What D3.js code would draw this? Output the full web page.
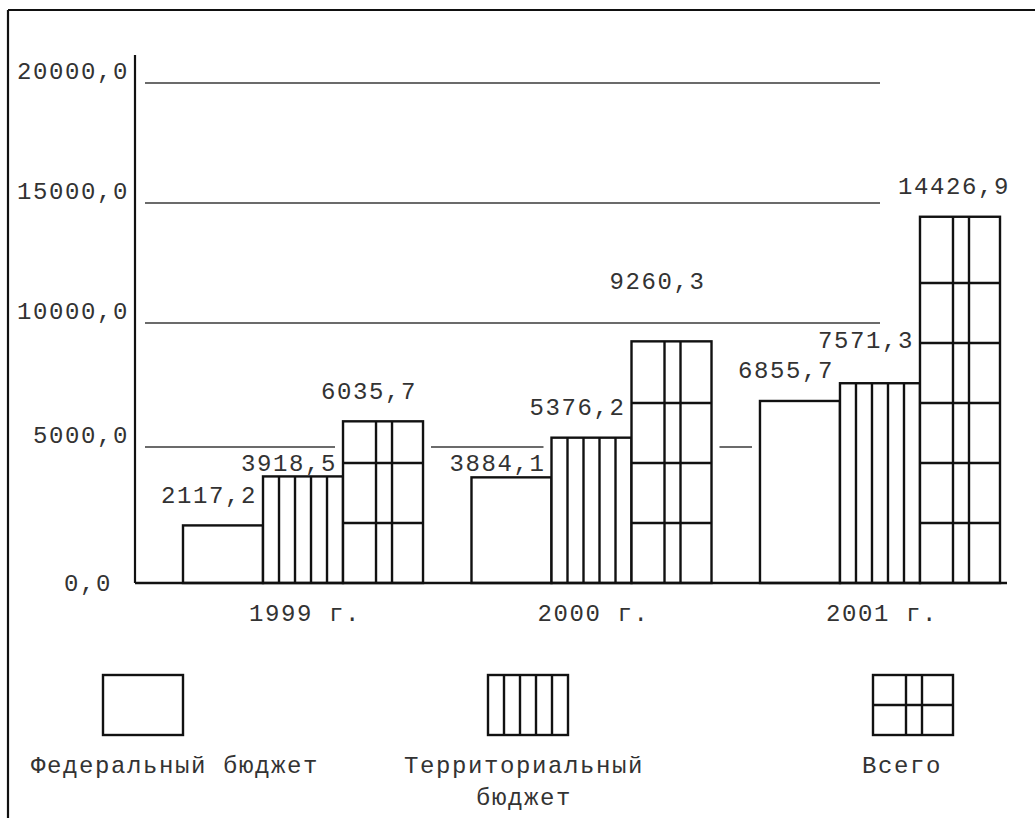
<!DOCTYPE html>
<html>
<head>
<meta charset="utf-8">
<script src="https://cdn.jsdelivr.net/npm/d3@7"></script>
<style>
  html, body { margin: 0; padding: 0; background: #fff; }
  svg { display: block; }
  text { font-family: "Liberation Mono", "DejaVu Sans Mono", monospace; font-size: 24px; letter-spacing: 1.6px; fill: #333; }
</style>
</head>
<body>
<svg id="chart" width="1035" height="818"></svg>
<script>
// ---- data ----
const years = ["1999 г.", "2000 г.", "2001 г."];
const federal = [2117.2, 3884.1, 6855.7];
const territorial = [3918.5, 5376.2, 7571.3];
const total = [6035.7, 9260.3, 14426.9];
const seriesKeys = ["fed", "terr", "total"];
const seriesNames = ["Федеральный бюджет", "Территориальный бюджет", "Всего"];
const yTicks = [0, 5000, 10000, 15000, 20000];
const yTickLabels = ["0,0", "5000,0", "10000,0", "15000,0", "20000,0"];

// ---- layout ----
const W = 1035, H = 818;
const BASE = 583;
const GRID_Y = [583, 447, 323, 203, 83];
const CAP = 15; // approx digit height in px

const svg = d3.select("#chart");

const y = d3.scaleLinear().domain(yTicks).range(GRID_Y);
const x0 = d3.scaleBand().domain(years).range([183, 1000]).paddingInner(0.168).paddingOuter(0);
const x1 = d3.scaleBand().domain(seriesKeys).range([0, x0.bandwidth()]).padding(0);

const rows = [];
years.forEach((yr, i) => {
  [federal[i], territorial[i], total[i]].forEach((v, j) => {
    rows.push({ year: yr, key: seriesKeys[j], value: v,
      x: x0(yr) + x1(seriesKeys[j]), w: x1.bandwidth(), top: y(v) });
  });
});

// ---- frame ----
svg.append("line").attr("x1", 8).attr("x2", W).attr("y1", 10).attr("y2", 10)
  .attr("stroke", "#111").attr("stroke-width", 2.2);
svg.append("line").attr("x1", 8).attr("x2", 8).attr("y1", 10).attr("y2", H)
  .attr("stroke", "#111").attr("stroke-width", 2.2);

// ---- gridlines with knockouts around taller bars ----
const GX0 = 145, GX1 = 880, GAP = 8;
yTicks.slice(1).forEach(t => {
  const gy = y(t);
  let segs = [[GX0, GX1]];
  rows.filter(r => r.top < gy).forEach(r => {
    const a = r.x - GAP, b = r.x + r.w + GAP;
    const next = [];
    segs.forEach(([s, e]) => {
      if (b <= s || a >= e) { next.push([s, e]); return; }
      if (a > s) next.push([s, a]);
      if (b < e) next.push([b, e]);
    });
    segs = next;
  });
  svg.append("g").selectAll("line").data(segs).join("line")
    .attr("x1", d => d[0]).attr("x2", d => d[1])
    .attr("y1", gy).attr("y2", gy)
    .attr("stroke", "#3a3a3a").attr("stroke-width", 1.6);
});

// ---- bars ----
const barG = svg.append("g");
function drawPattern(g, key, bx, bw, top, bottom, hStep) {
  if (key === "terr") {
    for (let k = 1; k < 5; k++) {
      g.append("line").attr("x1", bx + bw * k / 5).attr("x2", bx + bw * k / 5)
        .attr("y1", top).attr("y2", bottom).attr("stroke", "#111").attr("stroke-width", 2.4);
    }
  } else if (key === "total") {
    [0.4125, 0.6125].forEach(f => {
      g.append("line").attr("x1", bx + bw * f).attr("x2", bx + bw * f)
        .attr("y1", top).attr("y2", bottom).attr("stroke", "#111").attr("stroke-width", 2.4);
    });
    if (hStep) {
      for (let hy = bottom - hStep; hy > top + 10; hy -= hStep) {
        g.append("line").attr("x1", bx).attr("x2", bx + bw)
          .attr("y1", hy).attr("y2", hy).attr("stroke", "#111").attr("stroke-width", 2.4);
      }
    } else {
      const m = (top + bottom) / 2;
      g.append("line").attr("x1", bx).attr("x2", bx + bw)
        .attr("y1", m).attr("y2", m).attr("stroke", "#111").attr("stroke-width", 2.4);
    }
  }
}
rows.forEach(r => {
  const g = barG.append("g");
  g.append("rect").attr("x", r.x).attr("y", r.top).attr("width", r.w).attr("height", BASE - r.top)
    .attr("fill", "#fff").attr("stroke", "#111").attr("stroke-width", 2.4);
  drawPattern(g, r.key, r.x, r.w, r.top, BASE, 60);
});

// ---- value labels (left-aligned, placed above each bar, avoiding gridlines and neighbours) ----
const fmt = v => d3.format(".1f")(v).replace(".", ",");
const CHAR_W = 16;
let prev = null;
rows.forEach(r => {
  const text = fmt(r.value);
  const lx0 = r.x - 22, lx1 = lx0 + text.length * CHAR_W;
  let c = r.top - 30;
  const hit = GRID_Y.slice(1).find(g => Math.abs(c - g) < 14);
  if (hit !== undefined) {
    if (r.top - (hit + 16) >= 12) c = hit + 16; else c = c - 30;
  }
  if (prev && prev.year === r.year && lx0 < prev.x1 && Math.abs(c - prev.c) < 28) {
    c = prev.c - 30;
  }
  svg.append("text").attr("x", lx0).attr("y", c + CAP / 2)
    .attr("text-anchor", "start").text(text);
  prev = { year: r.year, x1: lx1, c };
});

// ---- axes ----
svg.append("line").attr("x1", 135).attr("x2", 135).attr("y1", 55).attr("y2", BASE)
  .attr("stroke", "#111").attr("stroke-width", 2.2);
svg.append("line").attr("x1", 135).attr("x2", 1007).attr("y1", BASE).attr("y2", BASE)
  .attr("stroke", "#111").attr("stroke-width", 2.4);

svg.append("g").selectAll("text").data(yTicks).join("text")
  .attr("text-anchor", "end")
  .attr("x", (d, i) => i === 0 ? 112 : 129)
  .attr("y", (d, i) => (i === 0 ? y(d) : y(d) - 12) + CAP / 2)
  .text((d, i) => yTickLabels[i]);

svg.append("g").selectAll("text").data(years).join("text")
  .attr("text-anchor", "middle")
  .attr("x", d => x0(d) + x0.bandwidth() / 2 + 2)
  .attr("y", 613 + CAP / 2)
  .text(d => d);

// ---- legend ----
const lx = d3.scalePoint().domain(seriesKeys).range([103, 873]);
const LEG_TOP = 675, LEG_H = 60, LEG_W = 80;
const LEG_LABEL_DX = [32, -4, -11];
seriesKeys.forEach((k, i) => {
  const g = svg.append("g");
  const bx = lx(k);
  g.append("rect").attr("x", bx).attr("y", LEG_TOP).attr("width", LEG_W).attr("height", LEG_H)
    .attr("fill", "#fff").attr("stroke", "#111").attr("stroke-width", 2.4);
  drawPattern(g, k, bx, LEG_W, LEG_TOP, LEG_TOP + LEG_H, null);
  const name = seriesNames[i];
  const lines = name.length > 20 ? name.split(" ") : [name];
  const cx = bx + LEG_W / 2 + LEG_LABEL_DX[i];
  lines.forEach((ln, j) => {
    g.append("text").attr("text-anchor", "middle").attr("x", cx)
      .attr("y", 765 + j * 32 + CAP / 2).text(ln);
  });
});
</script>
</body>
</html>
